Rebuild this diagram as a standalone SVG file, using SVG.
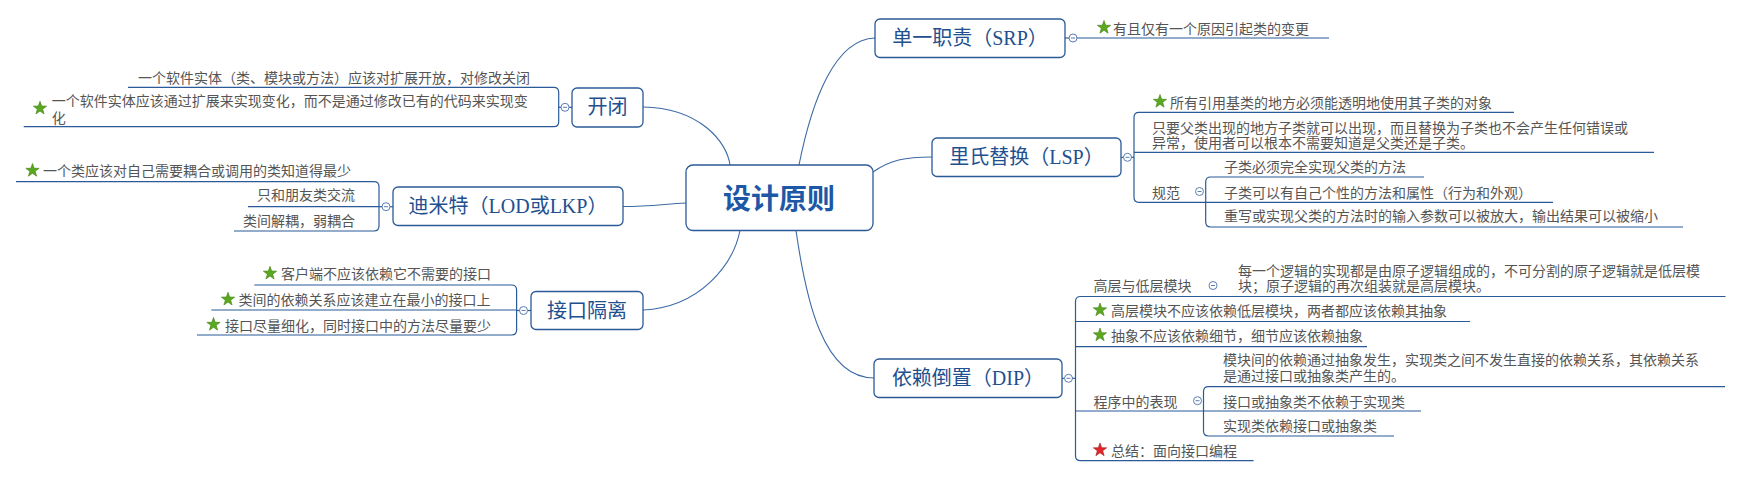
<svg xmlns="http://www.w3.org/2000/svg" xmlns:xlink="http://www.w3.org/1999/xlink" width="1737" height="477" viewBox="0 0 1737 477">
<style>
.bg{fill:#ffffff}
.box{fill:#ffffff;stroke:#2b5a98;stroke-width:1.3}
.ln{fill:none;stroke:#2b5a98;stroke-width:1.2}
.cn{fill:none;stroke:#3d6aa5;stroke-width:1.1}
.t{font-family:"Noto Sans CJK SC","Noto Sans",sans-serif;font-size:14px;fill:#555555;dominant-baseline:central}
.te{text-anchor:end}
.mt{font-family:"Liberation Serif","Noto Sans CJK SC",serif;font-size:20px;fill:#22508f;text-anchor:middle;dominant-baseline:central}
.ct{font-family:"Noto Sans CJK SC",sans-serif;font-size:28px;font-weight:700;fill:#1d58a6;text-anchor:middle;dominant-baseline:central}
</style>
<defs>
<g id="tog"><circle r="4" fill="#ffffff" stroke="#5b7fb2" stroke-width="1"/><line x1="-2" y1="0" x2="2" y2="0" stroke="#5b7fb2" stroke-width="1"/></g>
<polygon id="star" points="0,-7 1.65,-2.26 6.66,-2.16 2.66,0.86 4.11,5.66 0,2.8 -4.11,5.66 -2.66,0.86 -6.66,-2.16 -1.65,-2.26"/>
<use id="gstar" href="#star" fill="#5aa81e" stroke="#3f7e12" stroke-width="0.6"/>
<use id="rstar" href="#star" fill="#e3262b" stroke="#a51414" stroke-width="0.6"/>
</defs>
<rect class="bg" x="0" y="0" width="1737" height="477"/>

<g id="connectors">
<path class="cn" d="M643,107 C700,108 727,142 730,165"/>
<path class="cn" d="M623,206.5 C650,206.5 665,204 686,203"/>
<path class="cn" d="M643,310 C700,307 733,265 740,230.5"/>
<path class="cn" d="M799,165 C812,100 835,39 875,38"/>
<path class="cn" d="M873,172 C890,160 905,157 932,157"/>
<path class="cn" d="M796,230.5 C806,300 823,378 874,378"/>
</g>

<g id="center">
<rect class="box" x="686" y="165" width="187" height="65.5" rx="7"/>
<text class="ct" x="779" y="197">设计原则</text>
</g>

<g id="srp">
<rect class="box" x="875" y="19" width="190" height="38.5" rx="5"/>
<text class="mt" x="970" y="38">单一职责（SRP）</text>
<line class="ln" x1="1065" y1="38" x2="1069" y2="38"/>
<use href="#tog" x="1073" y="38"/>
<path class="ln" d="M1077,38 H1329"/>
<use href="#gstar" x="1104" y="27.5"/>
<text class="t" x="1113" y="27.5">有且仅有一个原因引起类的变更</text>
</g>

<g id="lsp">
<rect class="box" x="932" y="138" width="189" height="38.5" rx="5"/>
<text class="mt" x="1026.5" y="157">里氏替换（LSP）</text>
<line class="ln" x1="1121" y1="157.3" x2="1123.5" y2="157.3"/>
<use href="#tog" x="1127.5" y="157.3"/>
<line class="ln" x1="1131.5" y1="157.3" x2="1134" y2="157.3"/>
<path class="ln" d="M1514,112.3 H1139 Q1134,112.3 1134,117.3 V197.3 Q1134,202.3 1139,202.3 H1553"/>
<path class="ln" d="M1134,152.3 H1654"/>
<use href="#gstar" x="1160" y="101.5"/>
<text class="t" x="1170" y="101.5">所有引用基类的地方必须能透明地使用其子类的对象</text>
<text class="t" x="1152" y="126.7">只要父类出现的地方子类就可以出现，而且替换为子类也不会产生任何错误或<tspan x="1152" dy="15">异常，使用者可以根本不需要知道是父类还是子类。</tspan></text>
<g id="lsp-rule">
<text class="t" x="1152" y="191.5">规范</text>
<use href="#tog" x="1199.5" y="191.5"/>
<path class="ln" d="M1424,177 H1210.7 Q1205.7,177 1205.7,182 V222 Q1205.7,227 1210.7,227 H1683"/>
<text class="t" x="1224" y="165.8">子类必须完全实现父类的方法</text>
<text class="t" x="1224" y="191.5">子类可以有自己个性的方法和属性（行为和外观）</text>
<text class="t" x="1224" y="214.8">重写或实现父类的方法时的输入参数可以被放大，输出结果可以被缩小</text>
</g>
</g>

<g id="dip">
<rect class="box" x="874" y="359" width="188" height="38.5" rx="5"/>
<text class="mt" x="968" y="378">依赖倒置（DIP）</text>
<line class="ln" x1="1062" y1="378.3" x2="1064.5" y2="378.3"/>
<use href="#tog" x="1068.5" y="378.3"/>
<line class="ln" x1="1072.5" y1="378.3" x2="1075.5" y2="378.3"/>
<path class="ln" d="M1725.5,296.5 H1080.5 Q1075.5,296.5 1075.5,301.5 V455.7 Q1075.5,460.7 1080.5,460.7 H1253.6"/>
<path class="ln" d="M1075.5,321.5 H1470"/>
<path class="ln" d="M1075.5,346.7 H1367"/>
<path class="ln" d="M1075.5,411 H1421"/>
<g id="dip-levels">
<text class="t" x="1093.5" y="285">高层与低层模块</text>
<use href="#tog" x="1213" y="285.5"/>
<text class="t" x="1238" y="270">每一个逻辑的实现都是由原子逻辑组成的，不可分割的原子逻辑就是低层模<tspan x="1238" dy="15">块；原子逻辑的再次组装就是高层模块。</tspan></text>
</g>
<use href="#gstar" x="1100" y="310"/>
<text class="t" x="1111" y="310">高层模块不应该依赖低层模块，两者都应该依赖其抽象</text>
<use href="#gstar" x="1100" y="335"/>
<text class="t" x="1111" y="335">抽象不应该依赖细节，细节应该依赖抽象</text>
<g id="dip-program">
<text class="t" x="1093.5" y="400.5">程序中的表现</text>
<use href="#tog" x="1197.5" y="400.7"/>
<path class="ln" d="M1725,386.7 H1208.5 Q1203.5,386.7 1203.5,391.7 V431 Q1203.5,436 1208.5,436 H1394"/>
<text class="t" x="1223" y="358.8">模块间的依赖通过抽象发生，实现类之间不发生直接的依赖关系，其依赖关系<tspan x="1223" dy="15.8">是通过接口或抽象类产生的。</tspan></text>
<text class="t" x="1223" y="400.5">接口或抽象类不依赖于实现类</text>
<text class="t" x="1223" y="424.5">实现类依赖接口或抽象类</text>
</g>
<use href="#rstar" x="1100" y="450"/>
<text class="t" x="1111" y="450">总结：面向接口编程</text>
</g>

<g id="ocp">
<rect class="box" x="572" y="88" width="71" height="39" rx="5"/>
<text class="mt" x="607.5" y="107">开闭</text>
<line class="ln" x1="569" y1="107.3" x2="572" y2="107.3"/>
<use href="#tog" x="565" y="107.3"/>
<line class="ln" x1="561" y1="107.3" x2="558.7" y2="107.3"/>
<path class="ln" d="M128,87.3 H553.7 Q558.7,87.3 558.7,92.3 V121.7 Q558.7,126.7 553.7,126.7 H23.7"/>
<text class="t" x="138" y="76.7">一个软件实体（类、模块或方法）应该对扩展开放，对修改关闭</text>
<use href="#gstar" x="40" y="108.3"/>
<text class="t" x="51.7" y="100">一个软件实体应该通过扩展来实现变化，而不是通过修改已有的代码来实现变<tspan x="51.7" dy="16.7">化</tspan></text>
</g>

<g id="lod">
<rect class="box" x="393" y="187" width="230" height="38.5" rx="5"/>
<text class="mt" x="508" y="206">迪米特（LOD或LKP）</text>
<line class="ln" x1="390" y1="206.7" x2="393" y2="206.7"/>
<use href="#tog" x="386" y="206.7"/>
<line class="ln" x1="382" y1="206.7" x2="379" y2="206.7"/>
<path class="ln" d="M16,181.7 H374 Q379,181.7 379,186.7 V226 Q379,231 374,231 H234"/>
<path class="ln" d="M379,206.7 H248"/>
<use href="#gstar" x="32.5" y="170.5"/>
<text class="t" x="43" y="170">一个类应该对自己需要耦合或调用的类知道得最少</text>
<text class="t te" x="355" y="194.3">只和朋友类交流</text>
<text class="t te" x="355" y="220">类间解耦，弱耦合</text>
</g>

<g id="isp">
<rect class="box" x="531" y="291.5" width="112" height="38" rx="5"/>
<text class="mt" x="587" y="310.5">接口隔离</text>
<line class="ln" x1="527.5" y1="310.5" x2="531" y2="310.5"/>
<use href="#tog" x="523.5" y="310.5"/>
<line class="ln" x1="519.5" y1="310.5" x2="516.6" y2="310.5"/>
<path class="ln" d="M254.3,285 H511.6 Q516.6,285 516.6,290 V330 Q516.6,335 511.6,335 H197"/>
<path class="ln" d="M516.6,310 H211.3"/>
<use href="#gstar" x="270" y="273.3"/>
<text class="t" x="281" y="273.3">客户端不应该依赖它不需要的接口</text>
<use href="#gstar" x="228" y="299.3"/>
<text class="t" x="238.5" y="299.3">类间的依赖关系应该建立在最小的接口上</text>
<use href="#gstar" x="213.5" y="324.5"/>
<text class="t" x="225" y="324.5">接口尽量细化，同时接口中的方法尽量要少</text>
</g>
</svg>
